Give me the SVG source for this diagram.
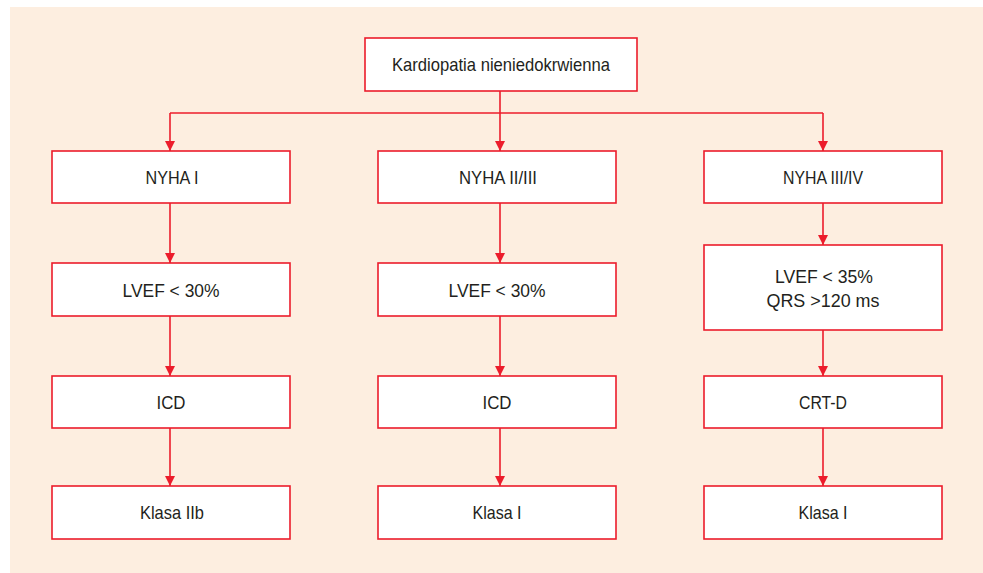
<svg xmlns="http://www.w3.org/2000/svg" width="983" height="573" viewBox="0 0 983 573">
<style>
.box{fill:#ffffff;stroke:#ec1c2b;stroke-width:1.6}
.t{font-family:"Liberation Sans Narrow","Liberation Sans",Arial,sans-serif;font-size:18.5px;fill:#231f20;text-anchor:middle}
.c{fill:none;stroke:#ec1c2b;stroke-width:1.6}
</style>
<defs>
<marker id="ah" viewBox="0 0 10 10" refX="10" refY="5" markerWidth="10" markerHeight="10" markerUnits="userSpaceOnUse" orient="auto">
<path d="M0,0 L10,5 L0,10 Z" fill="#ec1c2b"/>
</marker>
</defs>
<rect x="10" y="7" width="973" height="566" fill="#fdeee0"/>
<g id="connectors">
<path class="c" d="M500,91 V113"/>
<path class="c" d="M170,113 H823"/>
<path class="c" d="M170,113 V151" marker-end="url(#ah)"/>
<path class="c" d="M500,113 V151" marker-end="url(#ah)"/>
<path class="c" d="M823,113 V151" marker-end="url(#ah)"/>
<path class="c" d="M170,203 V263" marker-end="url(#ah)"/>
<path class="c" d="M170,316 V376" marker-end="url(#ah)"/>
<path class="c" d="M170,428 V486" marker-end="url(#ah)"/>
<path class="c" d="M500,203 V263" marker-end="url(#ah)"/>
<path class="c" d="M500,316 V376" marker-end="url(#ah)"/>
<path class="c" d="M500,428 V486" marker-end="url(#ah)"/>
<path class="c" d="M823,203 V245" marker-end="url(#ah)"/>
<path class="c" d="M823,330 V376" marker-end="url(#ah)"/>
<path class="c" d="M823,428 V486" marker-end="url(#ah)"/>
</g>
<g id="top"><rect class="box" x="365" y="38" width="272" height="53"/><text class="t" x="501" y="71" textLength="218" lengthAdjust="spacingAndGlyphs">Kardiopatia nieniedokrwienna</text></g>
<g id="n1"><rect class="box" x="52" y="151" width="238" height="52"/><text class="t" x="172" y="184" textLength="53" lengthAdjust="spacingAndGlyphs">NYHA I</text></g>
<g id="n2"><rect class="box" x="378" y="151" width="238" height="52"/><text class="t" x="498" y="184" textLength="78" lengthAdjust="spacingAndGlyphs">NYHA II/III</text></g>
<g id="n3"><rect class="box" x="704" y="151" width="238" height="52"/><text class="t" x="823" y="184" textLength="80" lengthAdjust="spacingAndGlyphs">NYHA III/IV</text></g>
<g id="l1"><rect class="box" x="52" y="263" width="238" height="53"/><text class="t" x="171" y="297" textLength="97" lengthAdjust="spacingAndGlyphs">LVEF &lt; 30%</text></g>
<g id="l2"><rect class="box" x="378" y="263" width="238" height="53"/><text class="t" x="497" y="297" textLength="97" lengthAdjust="spacingAndGlyphs">LVEF &lt; 30%</text></g>
<g id="l3"><rect class="box" x="704" y="245" width="238" height="85"/><text class="t" x="824" y="283" textLength="98" lengthAdjust="spacingAndGlyphs">LVEF &lt; 35%</text><text class="t" x="823" y="307" textLength="113" lengthAdjust="spacingAndGlyphs">QRS &gt;120 ms</text></g>
<g id="d1"><rect class="box" x="52" y="376" width="238" height="52"/><text class="t" x="171" y="409" textLength="29" lengthAdjust="spacingAndGlyphs">ICD</text></g>
<g id="d2"><rect class="box" x="378" y="376" width="238" height="52"/><text class="t" x="497" y="409" textLength="29" lengthAdjust="spacingAndGlyphs">ICD</text></g>
<g id="d3"><rect class="box" x="704" y="376" width="238" height="52"/><text class="t" x="823" y="409" textLength="48" lengthAdjust="spacingAndGlyphs">CRT-D</text></g>
<g id="k1"><rect class="box" x="52" y="486" width="238" height="53"/><text class="t" x="172" y="519" textLength="64" lengthAdjust="spacingAndGlyphs">Klasa IIb</text></g>
<g id="k2"><rect class="box" x="378" y="486" width="238" height="53"/><text class="t" x="497" y="519" textLength="49" lengthAdjust="spacingAndGlyphs">Klasa I</text></g>
<g id="k3"><rect class="box" x="704" y="486" width="238" height="53"/><text class="t" x="823" y="519" textLength="49" lengthAdjust="spacingAndGlyphs">Klasa I</text></g>
</svg>
